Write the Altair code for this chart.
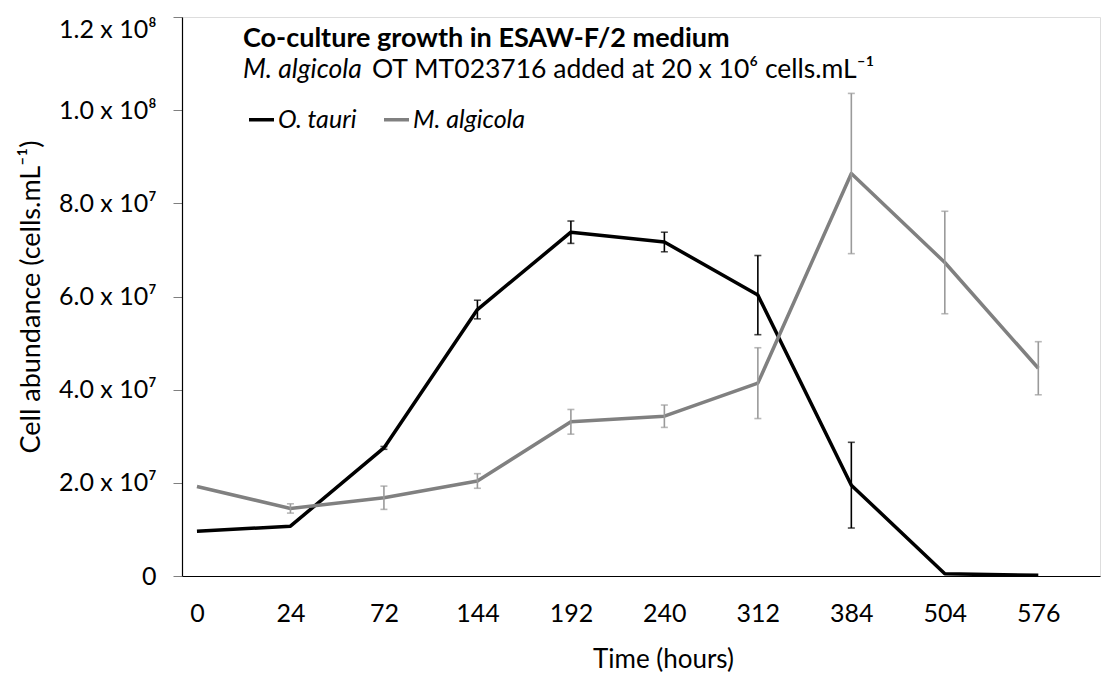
import altair as alt
import pandas as pd

# ---- data ----
hours = ["0", "24", "72", "144", "192", "240", "312", "384", "504", "576"]
otauri = [9.6e6, 1.07e7, 2.75e7, 5.72e7, 7.38e7, 7.17e7, 6.03e7, 1.95e7, 0.5e6, 0.15e6]
otauri_err = [0, 0, 0.3e6, 2.0e6, 2.4e6, 2.1e6, 8.5e6, 9.2e6, 0, 0]
malg = [1.92e7, 1.45e7, 1.68e7, 2.04e7, 3.31e7, 3.43e7, 4.14e7, 8.64e7, 6.73e7, 4.46e7]
malg_err = [0, 1.0e6, 2.5e6, 1.57e6, 2.65e6, 2.4e6, 7.6e6, 1.72e7, 1.1e7, 5.7e6]
series_names = ["O. tauri", "M. algicola"]
series_colors = ["#000000", "#808080"]
err_colors = ["#000000", "#9a9a9a"]

y_ticks = [0, 2e7, 4e7, 6e7, 8e7, 1e8, 1.2e8]
y_tick_labels = ["0", "2.0 x 10\u2077", "4.0 x 10\u2077", "6.0 x 10\u2077",
                 "8.0 x 10\u2077", "1.0 x 10\u2078", "1.2 x 10\u2078"]

title_text = "Co-culture growth in ESAW-F/2 medium"
sub_italic = "M. algicola"
sub_rest = "OT MT023716 added at 20 x 10\u2076 cells.mL\u207b\u00b9"
y_title = "Cell abundance (cells.mL\u207b\u00b9)"
x_title = "Time (hours)"

FONT = "Lato"

rows = []
for i, h in enumerate(hours):
    rows.append({"idx": i, "hour": h, "series": series_names[0], "value": otauri[i], "err": otauri_err[i]})
for i, h in enumerate(hours):
    rows.append({"idx": i, "hour": h, "series": series_names[1], "value": malg[i], "err": malg_err[i]})
df = pd.DataFrame(rows)
df["lo"] = df["value"] - df["err"]
df["hi"] = df["value"] + df["err"]

x_label_expr = "[" + ",".join("'%s'" % h for h in hours) + "][datum.value]"
y_label_expr = ""
for v, lab in zip(y_ticks, y_tick_labels):
    y_label_expr += "datum.value == %d ? '%s' : " % (int(v), lab)
y_label_expr += "''"

x_enc = alt.X("idx:Q",
              scale=alt.Scale(domain=[-0.16, 9.66], nice=False, zero=False),
              axis=alt.Axis(values=list(range(len(hours))), labelExpr=x_label_expr,
                            title=x_title, ticks=False, grid=False,
                            domainColor="#000000", domainWidth=1.2,
                            labelFont=FONT, labelFontSize=25, labelColor="#000000",
                            labelPadding=25,
                            titleFont=FONT, titleFontSize=26, titleFontWeight="normal",
                            titleColor="#000000", titleX=481, titleY=83,
                            titleBaseline="middle"))
y_scale = alt.Scale(domain=[0, 1.2e8], nice=False)
y_axis = alt.Axis(values=y_ticks, labelExpr=y_label_expr, title=y_title, grid=False,
                  domainColor="#000000", domainWidth=1.2, tickColor="#7f7f7f",
                  tickSize=9, labelPadding=17,
                  labelBaseline={"condition": {"test": "datum.value == 120000000", "value": "top"},
                                 "value": "middle"},
                  labelFont=FONT, labelFontSize=25, labelColor="#000000",
                  titleFont=FONT, titleFontSize=27, titleFontWeight="normal",
                  titleColor="#000000", titlePadding=13)

color = alt.Color("series:N",
                  scale=alt.Scale(domain=series_names, range=series_colors),
                  sort=series_names,
                  legend=alt.Legend(title=None, orient="none", legendX=65, legendY=88,
                                    direction="horizontal", symbolType="stroke",
                                    symbolSize=625, symbolStrokeWidth=3.5,
                                    labelFont=FONT, labelFontSize=25,
                                    labelFontStyle="italic", labelColor="#000000",
                                    labelOffset=2, columnPadding=20, padding=0))

base = alt.Chart(df)

lines = base.mark_line(strokeWidth=3.5, strokeJoin="round").encode(
    x=x_enc,
    y=alt.Y("value:Q", scale=y_scale, axis=y_axis),
    color=color,
    order=alt.Order("idx:Q"),
    detail="series:N",
)

err_scale = alt.Scale(domain=series_names, range=err_colors)
errdf = base.transform_filter("datum.err > 0")
err_rule = errdf.mark_rule(strokeWidth=1.6).encode(
    x="idx:Q", y="lo:Q", y2="hi:Q", stroke=alt.Stroke("series:N", scale=err_scale, legend=None))
cap_lo = errdf.mark_tick(orient="horizontal", size=7, thickness=1.6).encode(
    x="idx:Q", y="lo:Q", color=alt.Color("series:N", scale=err_scale, legend=None))
cap_hi = errdf.mark_tick(orient="horizontal", size=7, thickness=1.6).encode(
    x="idx:Q", y="hi:Q", color=alt.Color("series:N", scale=err_scale, legend=None))

def text_layer(txt, x, y, **kw):
    return alt.Chart(pd.DataFrame({"t": [txt]})).mark_text(
        align="left", baseline="middle", font=FONT, color="#000000", **kw
    ).encode(text="t:N", x=alt.value(x), y=alt.value(y))

t1 = text_layer(title_text, 61, 22, fontSize=27, fontWeight="bold")
t2 = text_layer(sub_italic, 61, 53, fontSize=26.5, fontStyle="italic")
t3 = text_layer(sub_rest, 190, 53, fontSize=26.5)

chart = alt.layer(lines, err_rule, cap_lo, cap_hi, t1, t2, t3).resolve_scale(
    color="independent", stroke="independent"
).properties(
    width=918, height=559,
    autosize=alt.AutoSizeParams(type="none"),
    padding={"left": 174, "top": 9, "right": 5, "bottom": 100},
).configure_view(stroke=None).configure(background="#ffffff")

chart.save("out.html", embed_options={"renderer": "svg", "actions": False})
